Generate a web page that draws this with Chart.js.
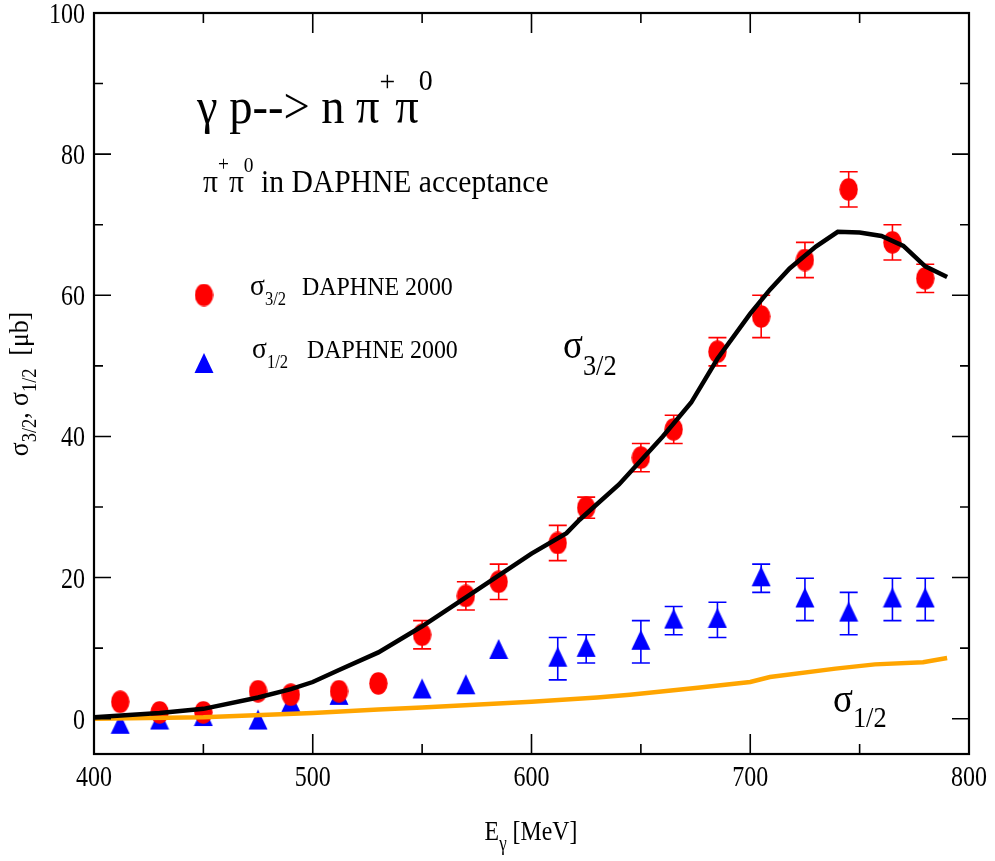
<!DOCTYPE html>
<html>
<head>
<meta charset="utf-8">
<title>gamma p -> n pi+ pi0</title>
<script src="https://cdn.jsdelivr.net/npm/chart.js@4.4.1/dist/chart.umd.min.js"></script>
<style>
  html, body { margin: 0; padding: 0; background: #fff; }
  canvas { display: block; }
</style>
</head>
<body>
<canvas id="chart" width="995" height="861"></canvas>
<script>
// DAPHNE 2000 data points (photon energy in MeV)
var energies = [412, 430, 450, 475, 490, 512, 530, 550, 570, 585, 612, 625, 650, 665, 685, 705, 725, 745, 765, 780];
var sigma32 = [2.4, 0.9, 0.9, 3.9, 3.4, 3.9, 5.0, 11.9, 17.4, 19.4, 24.9, 29.9, 37.0, 41.0, 52.0, 57.0, 65.0, 75.0, 67.5, 62.4];
var sigma32Err = [0, 0, 0, 0, 0, 0, 0, 2, 2, 2.5, 2.5, 1.5, 2, 2, 2, 3, 2.5, 2.5, 2.5, 2];
var sigma12 = [-1.0, -0.4, 0.1, -0.4, 2.1, 3.1, null, 4.0, 4.6, 9.6, 8.5, 9.9, 10.9, 13.9, 14.0, 19.9, 16.9, 14.9, 16.9, 16.9];
var sigma12Err = [0, 0, 0, 0, 0, 0, 0, 0, 0, 0, 3, 2, 3, 2, 2.5, 2, 3, 3, 3, 3];

// model curves
var theory32E = [400, 430, 450, 475, 490, 500, 512, 530, 550, 570, 600, 616, 622, 640, 660, 673, 685, 700, 709, 718, 730, 740, 750, 760, 770, 780, 790];
var theory32 = [0.2, 0.8, 1.4, 3.0, 4.2, 5.2, 6.9, 9.4, 13.1, 17.2, 23.4, 26.3, 28.2, 33.2, 40.0, 44.8, 51.0, 57.4, 60.8, 63.8, 66.9, 69.0, 68.9, 68.4, 67.0, 64.1, 62.6];
var theory12E = [400, 450, 500, 530, 550, 600, 630, 645, 676, 700, 709, 739, 757, 779, 790];
var theory12 = [0.0, 0.2, 0.8, 1.3, 1.6, 2.4, 3.0, 3.4, 4.4, 5.2, 5.9, 7.1, 7.7, 8.0, 8.6];

// axes
var xTicks = [400, 500, 600, 700, 800];
var xMinor = [450, 550, 650, 750];
var yTicks = [0, 20, 40, 60, 80, 100];
var yMinor = [10, 30, 50, 70, 90];

var FONT = '"Liberation Serif", "Times New Roman", serif';

function toPoints(xs, ys) {
    return xs.map(function (x, i) { return { x: x, y: ys[i] }; });
}

// markers: red ellipse and blue triangle
function makeEllipse(color) {
    var c = document.createElement('canvas');
    c.width = 19; c.height = 23;
    var g = c.getContext('2d');
    g.fillStyle = color;
    g.beginPath();
    g.ellipse(9.5, 11.5, 9.2, 11.3, 0, 0, Math.PI * 2);
    g.fill();
    return c;
}
function makeTriangle(color) {
    var c = document.createElement('canvas');
    c.width = 20; c.height = 26;
    var g = c.getContext('2d');
    g.fillStyle = color;
    g.beginPath();
    g.moveTo(10, 1);
    g.lineTo(19.5, 21);
    g.lineTo(0.5, 21);
    g.closePath();
    g.fill();
    return c;
}
var redDot = makeEllipse('#ff0000');
var blueTri = makeTriangle('#0000ff');

// text with sub/superscripts; parts = [text, size, dy]
function richText(ctx, parts, x, y, opt) {
    opt = opt || {};
    var sx = opt.sx || 0.88;
    ctx.save();
    ctx.translate(x, y);
    if (opt.rot) ctx.rotate(opt.rot);
    ctx.scale(sx, 1);
    ctx.fillStyle = '#000';
    ctx.textBaseline = 'alphabetic';
    ctx.textAlign = 'left';
    var total = 0;
    parts.forEach(function (p) {
        ctx.font = p[1] + 'px ' + FONT;
        total += ctx.measureText(p[0]).width;
    });
    var cx = 0;
    if (opt.align === 'center') cx = -total / 2;
    if (opt.align === 'right') cx = -total;
    parts.forEach(function (p) {
        ctx.font = p[1] + 'px ' + FONT;
        ctx.fillText(p[0], cx, p[2] || 0);
        cx += ctx.measureText(p[0]).width;
    });
    ctx.restore();
}

// Error bars drawn through the scales
var errorBars = {
    id: 'errorBars',
    beforeDatasetsDraw: function (chart) {
        var ctx = chart.ctx;
        var xs = chart.scales.x, ys = chart.scales.y;
        var sets = [[sigma32, sigma32Err, '#ff0000'], [sigma12, sigma12Err, '#0000ff']];
        ctx.save();
        ctx.lineWidth = 1.6;
        sets.forEach(function (s) {
            ctx.strokeStyle = s[2];
            energies.forEach(function (e, i) {
                if (s[0][i] === null || !s[1][i]) return;
                var px = xs.getPixelForValue(e);
                var top = ys.getPixelForValue(s[0][i] + s[1][i]);
                var bot = ys.getPixelForValue(s[0][i] - s[1][i]);
                ctx.beginPath();
                ctx.moveTo(px, top); ctx.lineTo(px, bot);
                ctx.moveTo(px - 9, top); ctx.lineTo(px + 9, top);
                ctx.moveTo(px - 9, bot); ctx.lineTo(px + 9, bot);
                ctx.stroke();
            });
        });
        ctx.restore();
    }
};

// Frame, inward ticks, labels and annotations
var decorations = {
    id: 'decorations',
    afterDraw: function (chart) {
        var ctx = chart.ctx;
        var a = chart.chartArea;
        var xs = chart.scales.x, ys = chart.scales.y;
        ctx.save();
        ctx.strokeStyle = '#000';
        ctx.lineWidth = 1.6;
        ctx.beginPath();
        xTicks.forEach(function (v) {
            var p = xs.getPixelForValue(v);
            ctx.moveTo(p, a.bottom); ctx.lineTo(p, a.bottom - 20);
            ctx.moveTo(p, a.top); ctx.lineTo(p, a.top + 20);
        });
        xMinor.forEach(function (v) {
            var p = xs.getPixelForValue(v);
            ctx.moveTo(p, a.bottom); ctx.lineTo(p, a.bottom - 10);
            ctx.moveTo(p, a.top); ctx.lineTo(p, a.top + 10);
        });
        yTicks.forEach(function (v) {
            var p = ys.getPixelForValue(v);
            ctx.moveTo(a.left, p); ctx.lineTo(a.left + 17, p);
            ctx.moveTo(a.right, p); ctx.lineTo(a.right - 17, p);
        });
        yMinor.forEach(function (v) {
            var p = ys.getPixelForValue(v);
            ctx.moveTo(a.left, p); ctx.lineTo(a.left + 9, p);
            ctx.moveTo(a.right, p); ctx.lineTo(a.right - 9, p);
        });
        ctx.stroke();
        ctx.lineWidth = 2.2;
        ctx.strokeRect(a.left, a.top, a.right - a.left, a.bottom - a.top);
        ctx.restore();

        // tick labels
        xTicks.forEach(function (v) {
            richText(ctx, [[String(v), 30, 0]], xs.getPixelForValue(v), a.bottom + 32, { align: 'center', sx: 0.8 });
        });
        yTicks.forEach(function (v) {
            richText(ctx, [[String(v), 30, 0]], a.left - 9, ys.getPixelForValue(v) + 10, { align: 'right', sx: 0.8 });
        });

        // axis titles
        richText(ctx, [['E', 28, 0], ['\u03b3', 20, 10], [' [MeV]', 28, 0]], 531, 840, { align: 'center', sx: 0.85 });
        richText(ctx, [['\u03c3', 28, 0], ['3/2', 20, 8], [', \u03c3', 28, 0], ['1/2', 20, 8], ['  [\u03bcb]', 28, 0]],
            28, 384, { align: 'center', rot: -Math.PI / 2, sx: 0.92 });

        // reaction and acceptance
        richText(ctx, [['\u03b3 p--> n \u03c0', 50, 0], ['+', 30, -32], ['\u03c0', 50, 0], ['0', 30, -33]], 197, 123, { sx: 0.93 });
        richText(ctx, [['\u03c0', 32, 0], ['+', 21, -21], ['\u03c0', 32, 0], ['0', 21, -20], [' in DAPHNE acceptance', 32, 0]], 203, 192, { sx: 0.925 });

        // legend
        ctx.drawImage(redDot, 204 - redDot.width / 2, 295 - redDot.height / 2);
        ctx.drawImage(blueTri, 204 - blueTri.width / 2, 365 - blueTri.height / 2);
        richText(ctx, [['\u03c3', 30, 0], ['3/2', 18, 10]], 250, 295, { sx: 0.92 });
        richText(ctx, [['DAPHNE 2000', 26, 0]], 302, 295, { sx: 0.92 });
        richText(ctx, [['\u03c3', 30, 0], ['1/2', 18, 10]], 252, 358, { sx: 0.92 });
        richText(ctx, [['DAPHNE 2000', 26, 0]], 307, 358, { sx: 0.92 });

        // curve labels
        richText(ctx, [['\u03c3', 42, 0], ['3/2', 30, 17]], 563, 358, { sx: 0.88 });
        richText(ctx, [['\u03c3', 42, 0], ['1/2', 30, 15]], 833, 712, { sx: 0.88 });
    }
};

new Chart(document.getElementById('chart'), {
    type: 'scatter',
    data: {
        datasets: [
            {
                label: 'sigma 3/2 model',
                data: toPoints(theory32E, theory32),
                showLine: true,
                borderColor: '#000000',
                borderWidth: 4.5,
                pointRadius: 0,
                tension: 0,
                order: 0
            },
            {
                label: 'sigma 1/2 model',
                data: toPoints(theory12E, theory12),
                showLine: true,
                borderColor: '#ffa500',
                borderWidth: 4.5,
                pointRadius: 0,
                tension: 0,
                order: 1
            },
            {
                label: 'sigma 3/2 DAPHNE 2000',
                data: toPoints(energies, sigma32),
                pointStyle: redDot,
                pointRadius: 10,
                order: 2
            },
            {
                label: 'sigma 1/2 DAPHNE 2000',
                data: toPoints(energies, sigma12).filter(function (p) { return p.y !== null; }),
                pointStyle: blueTri,
                pointRadius: 10,
                order: 3
            }
        ]
    },
    options: {
        responsive: false,
        animation: false,
        layout: { padding: { top: 13, right: 26, left: 0, bottom: 0 } },
        plugins: { legend: { display: false }, tooltip: { enabled: false } },
        scales: {
            x: {
                type: 'linear', min: 400, max: 800,
                grid: { display: false, drawTicks: false },
                border: { display: false },
                ticks: { display: false },
                afterFit: function (s) { s.height = 107; }
            },
            y: {
                type: 'linear', min: -5, max: 100,
                grid: { display: false, drawTicks: false },
                border: { display: false },
                ticks: { display: false },
                afterFit: function (s) { s.width = 94; }
            }
        }
    },
    plugins: [errorBars, decorations]
});
</script>
</body>
</html>
